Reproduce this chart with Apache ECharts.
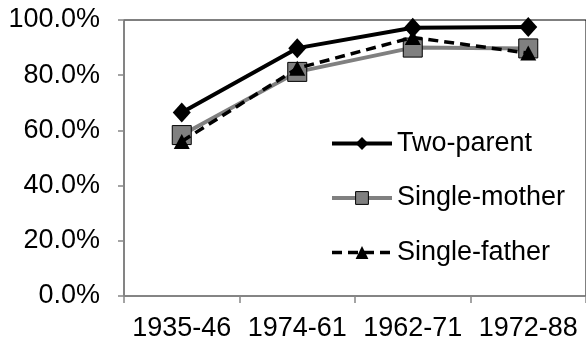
<!DOCTYPE html>
<html>
<head>
<meta charset="utf-8">
<script src="https://cdn.jsdelivr.net/npm/echarts@6/dist/echarts.min.js"></script>
<style>
html,body{margin:0;padding:0;background:#fff;}
#chart{width:586px;height:345px;}
</style>
</head>
<body>
<div id="chart"></div>
<script>
const categories = ['1935-46', '1974-61', '1962-71', '1972-88'];
const twoParent = [0.665, 0.898, 0.972, 0.975];
const singleMother = [0.583, 0.812, 0.900, 0.897];
const singleFather = [0.560, 0.825, 0.937, 0.880];
const yTicks = [0, 0.2, 0.4, 0.6, 0.8, 1.0];

const FONT = '"Liberation Sans", Arial, sans-serif';
const chart = echarts.init(document.getElementById('chart'), null, {renderer: 'canvas'});
chart.setOption({
  backgroundColor: '#fff',
  animation: false,
  grid: {left: 124, right: -4, top: 20, bottom: 49, show: true, borderColor: '#000', borderWidth: 1, backgroundColor: 'transparent'},
  legend: {
    orient: 'vertical', left: 330, top: 130, padding: 0,
    itemWidth: 60, itemHeight: 16, itemGap: 27.5,
    lineStyle: {width: 'inherit'},
    itemStyle: {borderWidth: 'inherit'},
    textStyle: {fontFamily: FONT, fontSize: 27, color: '#000', lineHeight: 27},
    data: ['Two-parent', 'Single-mother', 'Single-father']
  },
  xAxis: {
    type: 'category', data: categories, boundaryGap: true,
    axisLine: {lineStyle: {color: '#868686', width: 1.5}},
    axisTick: {show: true, length: 7, lineStyle: {color: '#868686', width: 1.5}},
    axisLabel: {fontFamily: FONT, fontSize: 27, color: '#000', margin: 19, interval: 0}
  },
  yAxis: {
    type: 'value', min: 0, max: 1, interval: 0.2,
    splitLine: {show: false},
    axisLine: {show: true, lineStyle: {color: '#868686', width: 1.5}},
    axisTick: {show: true, length: 6, lineStyle: {color: '#868686', width: 1.5}},
    axisLabel: {fontFamily: FONT, fontSize: 27, color: '#000', margin: 24,
      formatter: v => (v * 100).toFixed(1) + '%'}
  },
  series: [
    {name: 'Two-parent', type: 'line', data: twoParent, symbol: 'diamond', symbolSize: [18, 20],
      lineStyle: {color: '#000', width: 4}, itemStyle: {color: '#000'}, z: 3},
    {name: 'Single-mother', type: 'line', data: singleMother, symbol: 'rect', symbolSize: 19,
      lineStyle: {color: '#808080', width: 4}, itemStyle: {color: '#808080', borderColor: '#000', borderWidth: 1}, z: 2},
    {name: 'Single-father', type: 'line', data: singleFather, symbol: 'triangle', symbolSize: [16, 15],
      lineStyle: {color: '#000', width: 3.5, type: [10, 6]}, itemStyle: {color: '#000'}, z: 4}
  ]
});
</script>
</body>
</html>
